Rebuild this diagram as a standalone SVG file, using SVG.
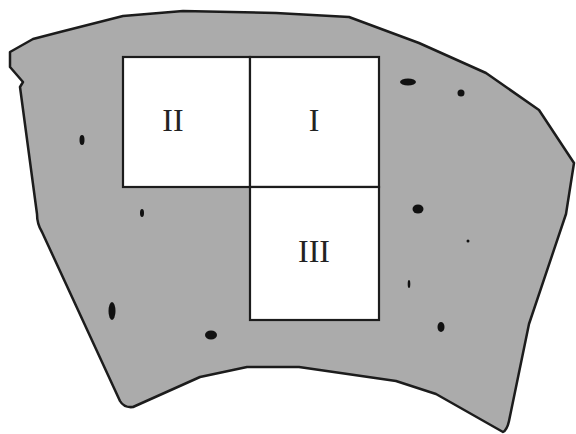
<svg xmlns="http://www.w3.org/2000/svg" width="576" height="434" viewBox="0 0 576 434">
<style>
.region{fill:#ababab;stroke:#1c1c1c;stroke-width:2.5;stroke-linejoin:round}
.box{fill:#ffffff;stroke:#1c1c1c;stroke-width:2.2}
.lbl{font-family:"Liberation Serif","Times New Roman",serif;font-size:32px;fill:#222;text-anchor:middle}
.dot{fill:#111}
</style>
<rect width="576" height="434" fill="#ffffff"/>
<g id="region">
<path class="region" d="M10,52 L33,39 L60,32 L123,16 L183,11 L276,13 L349,17 L419,43 L486,73 L539,110 L574,163 L566,214 L529,324 L509,421 Q507,430 503,432 L436,394 L396,381 L299,367 L247,367 L200,377 L133,407 Q124,408 120,401 L42,232 Q37,224 37,214 L20,87 L23,82 L10,67 Z"/>
</g>
<g id="dots">
<ellipse class="dot" cx="82" cy="140" rx="2.5" ry="5"/>
<ellipse class="dot" cx="142" cy="213" rx="2" ry="4"/>
<ellipse class="dot" cx="408" cy="82" rx="8" ry="3.5"/>
<circle class="dot" cx="461" cy="93" r="3.5"/>
<ellipse class="dot" cx="418" cy="209" rx="5.5" ry="4.5"/>
<ellipse class="dot" cx="112" cy="311" rx="3.5" ry="9"/>
<ellipse class="dot" cx="211" cy="335" rx="6" ry="4.5"/>
<circle class="dot" cx="468" cy="241" r="1.5"/>
<ellipse class="dot" cx="409" cy="284" rx="1.3" ry="4"/>
<ellipse class="dot" cx="441" cy="327" rx="3.5" ry="5"/>
</g>
<g id="box-II">
<rect class="box" x="123" y="57" width="127" height="130"/>
<text class="lbl" x="173" y="131">II</text>
</g>
<g id="box-I">
<rect class="box" x="250" y="57" width="129" height="130"/>
<text class="lbl" x="314" y="131">I</text>
</g>
<g id="box-III">
<rect class="box" x="250" y="187" width="129" height="133"/>
<text class="lbl" x="314" y="262">III</text>
</g>
</svg>
